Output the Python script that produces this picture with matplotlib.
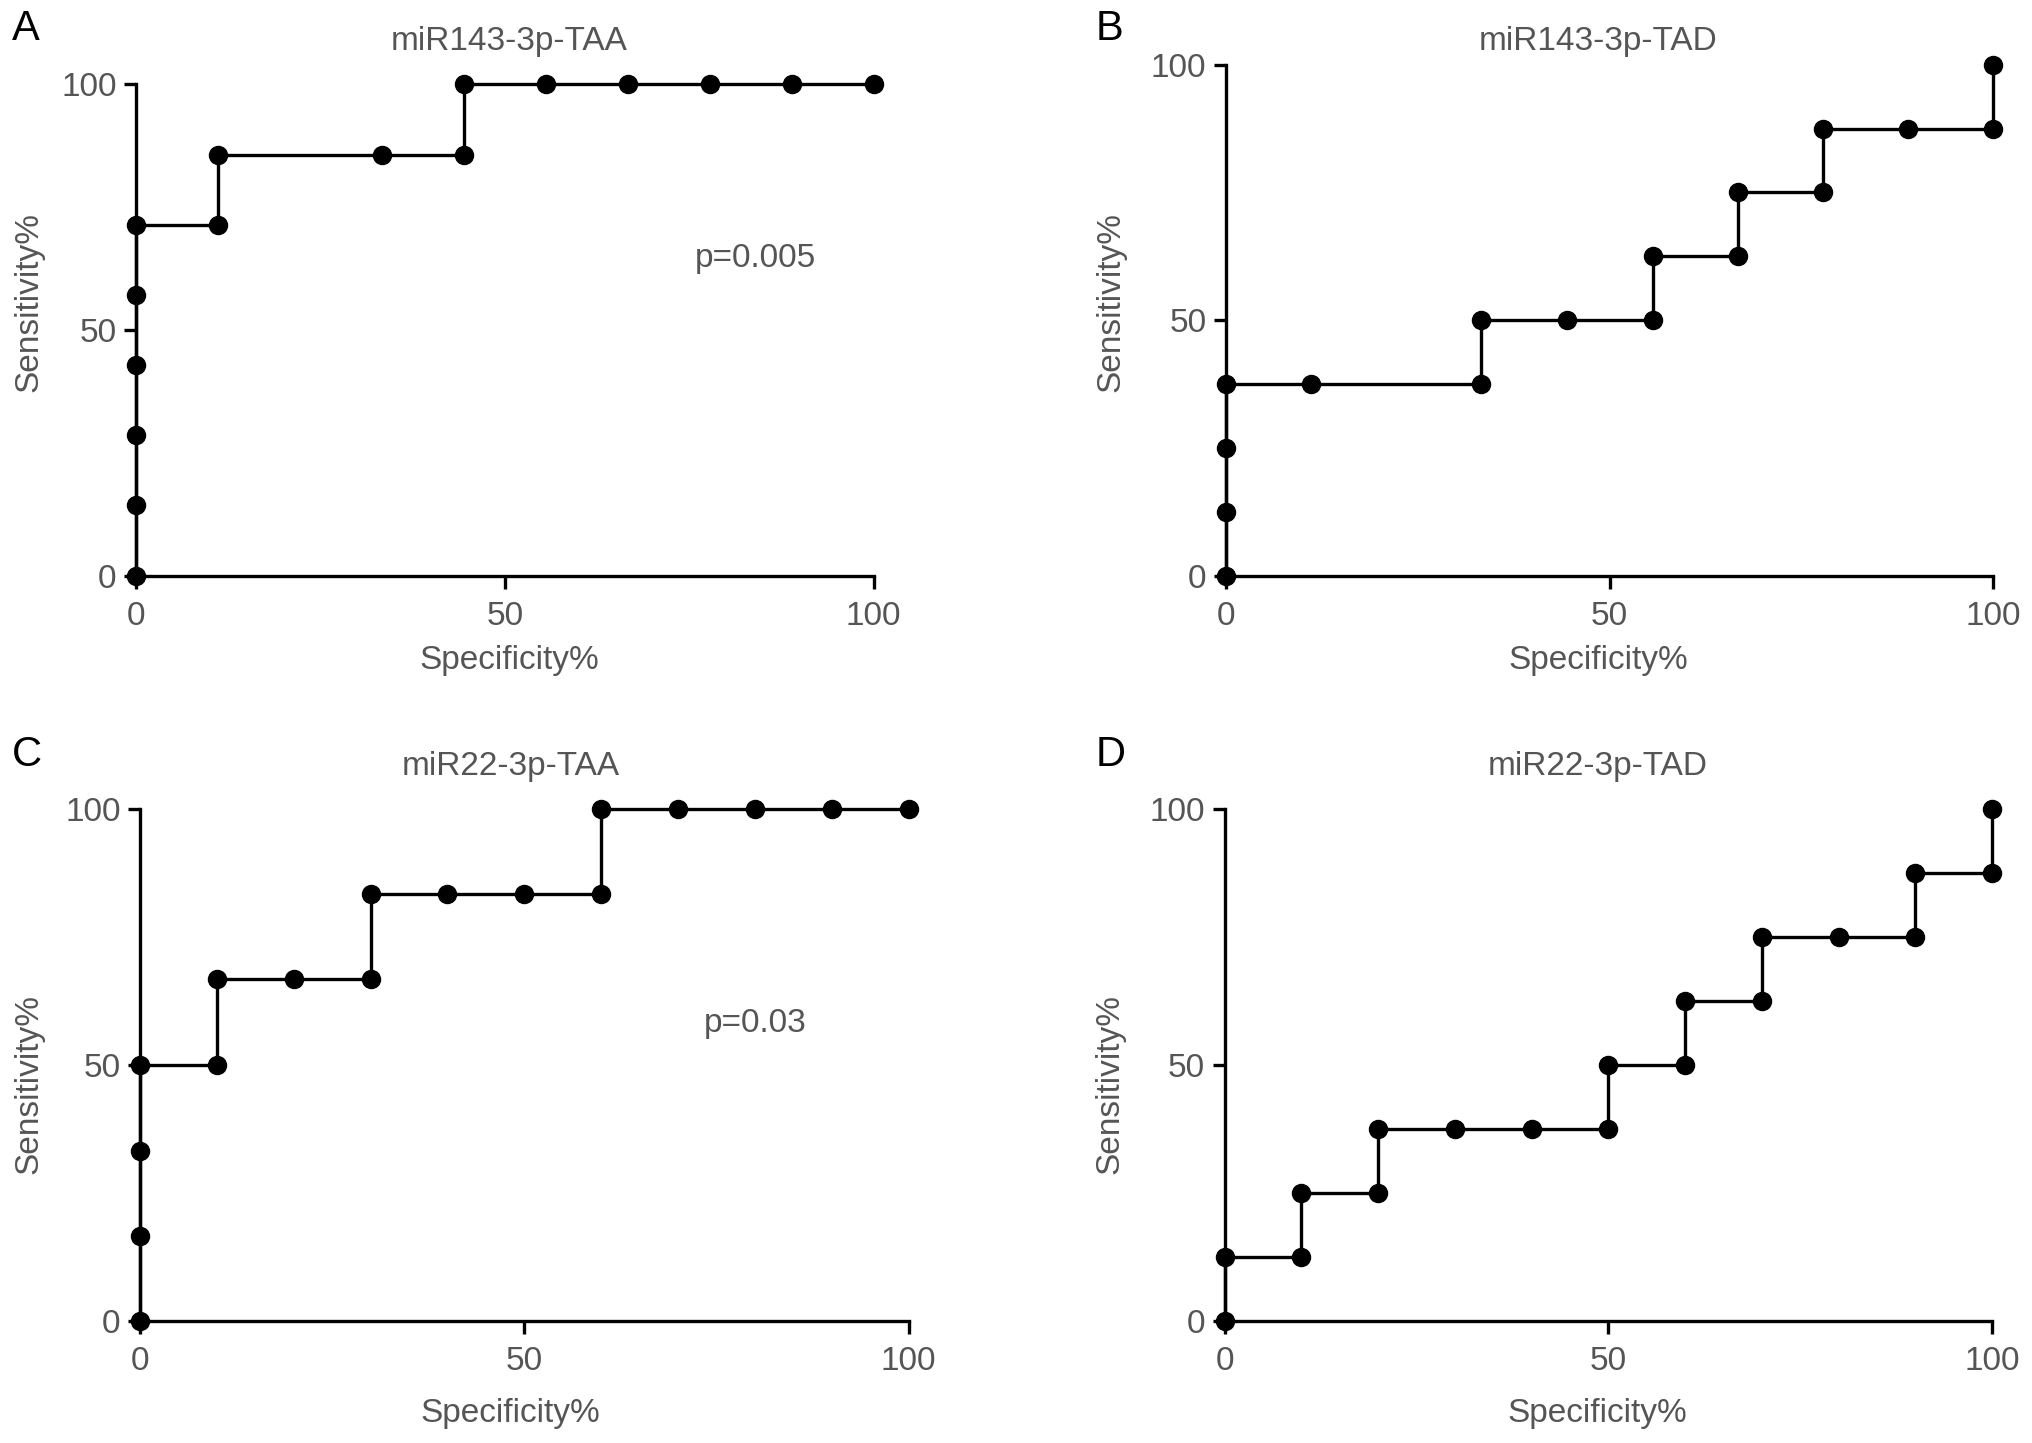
import matplotlib
matplotlib.use("Agg")
import matplotlib.pyplot as plt

plt.rcParams['font.family'] = ['Liberation Sans', 'DejaVu Sans']

# ROC points (specificity %, sensitivity %)
a_spec = [0, 0, 0, 0, 0, 0, 11.1, 11.1, 33.3, 44.4, 44.4, 55.6, 66.7, 77.8, 88.9, 100]
a_sens = [0, 14.3, 28.6, 42.9, 57.1, 71.4, 71.4, 85.7, 85.7, 85.7, 100, 100, 100, 100, 100, 100]

b_spec = [0, 0, 0, 0, 11.1, 33.3, 33.3, 44.4, 55.6, 55.6, 66.7, 66.7, 77.8, 77.8, 88.9, 100, 100]
b_sens = [0, 12.5, 25, 37.5, 37.5, 37.5, 50, 50, 50, 62.5, 62.5, 75, 75, 87.5, 87.5, 87.5, 100]

c_spec = [0, 0, 0, 0, 10, 10, 20, 30, 30, 40, 50, 60, 60, 70, 80, 90, 100]
c_sens = [0, 16.7, 33.3, 50, 50, 66.7, 66.7, 66.7, 83.3, 83.3, 83.3, 83.3, 100, 100, 100, 100, 100]

d_spec = [0, 0, 10, 10, 20, 20, 30, 40, 50, 50, 60, 60, 70, 70, 80, 90, 90, 100, 100]
d_sens = [0, 12.5, 12.5, 25, 25, 37.5, 37.5, 37.5, 37.5, 50, 50, 62.5, 62.5, 75, 75, 75, 87.5, 87.5, 100]

titles = ['miR143-3p-TAA', 'miR143-3p-TAD', 'miR22-3p-TAA', 'miR22-3p-TAD']
letters = ['A', 'B', 'C', 'D']
pvals = ['p=0.005', None, 'p=0.03', None]
p_pos = [(84, 64.6), None, (80, 58.2), None]

# axes boxes in figure fractions: left, bottom, width, height
boxes = [
    [0.0670, 0.6011, 0.3629, 0.3405],
    [0.6033, 0.6011, 0.3776, 0.3540],
    [0.0689, 0.0845, 0.3782, 0.3549],
    [0.6027, 0.0845, 0.3776, 0.3549],
]
letter_pos = [(0.006, 0.980), (0.539, 0.980), (0.006, 0.477), (0.539, 0.477)]
title_xy = [(0.2506, 0.971), (0.7864, 0.971), (0.2513, 0.469), (0.7864, 0.469)]
# label positions in axes coords
xlab = [(0.506, -0.172), (0.485, -0.166), (0.482, -0.181), (0.486, -0.181)]
ylab = [(-0.146, 0.557), (-0.150, 0.536), (-0.145, 0.463), (-0.149, 0.463)]

grey = '#555555'
fs = 24
series = [(a_spec, a_sens), (b_spec, b_sens), (c_spec, c_sens), (d_spec, d_sens)]

fig = plt.figure(figsize=(20.32, 14.43), dpi=100)

for i, (xs, ys) in enumerate(series):
    ax = fig.add_axes(boxes[i])
    ax.plot(xs, ys, color='black', lw=2.4, marker='o', ms=13, clip_on=False, zorder=3)
    ax.set_xlim(0, 100)
    ax.set_ylim(0, 100)
    ax.set_xticks([0, 50, 100])
    ax.set_yticks([0, 50, 100])
    for s in ['top', 'right']:
        ax.spines[s].set_visible(False)
    for s in ['left', 'bottom']:
        ax.spines[s].set_linewidth(2.4)
    ax.tick_params(length=9, width=2.4, labelsize=fs, labelcolor=grey)
    ax.tick_params(axis='x', pad=9)
    ax.tick_params(axis='y', pad=5)
    ax.set_xlabel('Specificity%', fontsize=fs, color=grey, va='center')
    ax.set_ylabel('Sensitivity%', fontsize=fs, color=grey, va='center')
    ax.xaxis.set_label_coords(*xlab[i])
    ax.yaxis.set_label_coords(*ylab[i])
    if pvals[i]:
        ax.text(p_pos[i][0], p_pos[i][1], pvals[i], fontsize=fs, color=grey,
                ha='center', va='center')
    fig.text(title_xy[i][0], title_xy[i][1], titles[i], fontsize=fs,
             color=grey, ha='center', va='center')
    fig.text(letter_pos[i][0], letter_pos[i][1], letters[i], fontsize=30,
             color='black', ha='left', va='center')

fig.savefig('out.png', dpi=100)
